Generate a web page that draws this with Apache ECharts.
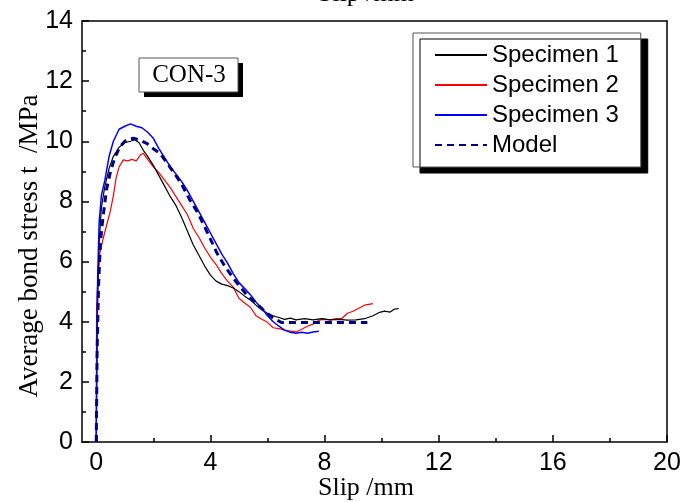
<!DOCTYPE html>
<html><head><meta charset="utf-8">
<script src="https://cdn.jsdelivr.net/npm/echarts@6/dist/echarts.min.js"></script>
<style>html,body{margin:0;padding:0;background:#fff}#c{width:680px;height:502px}</style>
</head><body><div id="c"></div>
<script>
// ---- data ----
const xTicks = [0, 4, 8, 12, 16, 20];
const xMinorTicks = [2, 6, 10, 14, 18];

const spec1X = [0, 0.02, 0.05, 0.1, 0.18, 0.3, 0.45, 0.6, 0.8, 1.0, 1.2, 1.35, 1.5, 1.65, 1.8, 2.0, 2.2, 2.4, 2.6, 2.8, 3.0, 3.2, 3.4, 3.6, 3.8, 4.0, 4.2, 4.4, 4.6, 4.8, 5.0, 5.2, 5.4, 5.6, 5.8, 6.0, 6.2, 6.4, 6.6, 6.8, 7.0, 7.3, 7.6, 7.9, 8.2, 8.5, 8.8, 9.1, 9.4, 9.7, 9.9, 10.1, 10.3, 10.45, 10.6];
const spec1Y = [0, 2.5, 4.8, 6.6, 7.8, 8.5, 9.1, 9.5, 9.8, 9.95, 10.0, 10.05, 9.95, 9.7, 9.5, 9.2, 8.85, 8.5, 8.15, 7.85, 7.45, 7.0, 6.55, 6.2, 5.85, 5.55, 5.35, 5.25, 5.2, 5.12, 5.0, 4.85, 4.72, 4.55, 4.4, 4.28, 4.2, 4.14, 4.08, 4.12, 4.06, 4.1, 4.06, 4.1, 4.06, 4.08, 4.05, 4.06, 4.1, 4.2, 4.3, 4.35, 4.32, 4.42, 4.44];

const spec2X = [0, 0.01, 0.05, 0.13, 0.25, 0.36, 0.5, 0.6, 0.7, 0.8, 0.95, 1.1, 1.25, 1.4, 1.55, 1.65, 1.8, 2.0, 2.2, 2.4, 2.6, 2.8, 3.0, 3.2, 3.4, 3.6, 3.8, 4.0, 4.2, 4.4, 4.6, 4.8, 5.0, 5.2, 5.4, 5.6, 5.8, 6.0, 6.2, 6.4, 6.6, 6.8, 7.0, 7.2, 7.4, 7.6, 7.8, 8.0, 8.2, 8.4, 8.6, 8.8, 9.0, 9.2, 9.4, 9.7];
const spec2Y = [0, 4.5, 5.3, 6.3, 6.8, 7.2, 7.7, 8.2, 8.8, 9.15, 9.38, 9.35, 9.4, 9.35, 9.55, 9.6, 9.4, 9.15, 8.95, 8.7, 8.45, 8.15, 7.85, 7.55, 7.1, 6.8, 6.45, 6.15, 5.9, 5.6, 5.35, 5.15, 4.78, 4.62, 4.48, 4.2, 4.08, 3.98, 3.8, 3.77, 3.72, 3.69, 3.66, 3.75, 3.85, 3.92, 4.05, 4.08, 4.06, 4.1, 4.1, 4.28, 4.35, 4.45, 4.55, 4.6];

const spec3X = [0, 0.02, 0.05, 0.1, 0.18, 0.3, 0.45, 0.6, 0.8, 1.0, 1.2, 1.4, 1.6, 1.8, 2.0, 2.2, 2.4, 2.6, 2.8, 3.0, 3.2, 3.4, 3.6, 3.8, 4.0, 4.2, 4.4, 4.6, 4.8, 5.0, 5.2, 5.4, 5.6, 5.8, 6.0, 6.2, 6.4, 6.6, 6.8, 7.0, 7.2, 7.4, 7.6, 7.8];
const spec3Y = [0, 3.0, 5.5, 7.3, 8.2, 8.7, 9.5, 10.0, 10.4, 10.5, 10.58, 10.5, 10.45, 10.3, 10.1, 9.75, 9.45, 9.15, 8.9, 8.65, 8.35, 8.0, 7.65, 7.3, 6.95, 6.6, 6.25, 5.95, 5.6, 5.3, 5.1, 4.9, 4.65, 4.45, 4.2, 4.0, 3.85, 3.72, 3.65, 3.62, 3.65, 3.62, 3.66, 3.68];

const modelX = [0, 0.03, 0.08, 0.15, 0.24, 0.36, 0.5, 0.65, 0.83, 1.0, 1.15, 1.3, 1.5, 1.77, 2.0, 2.23, 2.5, 2.82, 3.0, 3.28, 3.57, 3.8, 4.0, 4.22, 4.5, 4.92, 5.27, 5.62, 5.9, 6.2, 6.5, 7.0, 7.5, 8.0, 8.5, 9.0, 9.5];
const modelY = [0, 3.0, 5.2, 6.7, 7.5, 8.4, 9.0, 9.45, 9.82, 10.0, 10.08, 10.1, 10.05, 9.93, 9.75, 9.6, 9.25, 8.82, 8.55, 8.05, 7.6, 7.15, 6.75, 6.3, 5.85, 5.3, 4.9, 4.6, 4.35, 4.12, 3.97, 3.97, 3.97, 3.97, 3.97, 3.97, 3.97];

const seriesNames = ['Specimen 1', 'Specimen 2', 'Specimen 3', 'Model'];
const xTitle = 'Slip /mm';
const yTitle = 'Average bond stress t  /MPa';
const panelLabel = 'CON-3';
// ---------------

const zip = (xs, ys) => xs.map((x, i) => [x, ys[i]]);
const sans = 'Liberation Sans';
const serif = 'Liberation Serif';

const chart = echarts.init(document.getElementById('c'), null, {renderer: 'canvas'});
chart.setOption({
  animation: false,
  backgroundColor: '#fff',
  grid: {left: 82, right: 13, top: 21, bottom: 60, containLabel: false, outerBoundsMode: 'none'},
  xAxis: [
    {type: 'value', position: 'bottom', min: -0.5, max: 20,
     axisLine: {show: true, onZero: false, lineStyle: {color: '#000', width: 1.5}},
     axisTick: {show: true, inside: true, length: 7, customValues: xTicks, lineStyle: {color: '#000', width: 1.5}},
     axisLabel: {customValues: xTicks, fontFamily: sans, fontSize: 25, color: '#000', margin: 9},
     splitLine: {show: false}},
    {type: 'value', position: 'bottom', min: -0.5, max: 20,
     axisLine: {show: false, onZero: false},
     axisTick: {show: true, inside: true, length: 4, customValues: xMinorTicks, lineStyle: {color: '#000', width: 1.5}},
     axisLabel: {show: false}, splitLine: {show: false}},
    {type: 'value', position: 'top', min: -0.5, max: 20,
     axisLine: {show: true, onZero: false, lineStyle: {color: '#000', width: 1.5}},
     axisTick: {show: false}, axisLabel: {show: false}, splitLine: {show: false}}
  ],
  yAxis: [
    {type: 'value', position: 'left', min: 0, max: 14, interval: 2,
     axisLine: {show: true, onZero: false, lineStyle: {color: '#000', width: 1.5}},
     axisTick: {show: true, inside: true, length: 7, lineStyle: {color: '#000', width: 1.5}},
     minorTick: {show: true, splitNumber: 2, length: 4, lineStyle: {color: '#000', width: 1.5}},
     axisLabel: {fontFamily: sans, fontSize: 25, color: '#000', margin: 9},
     splitLine: {show: false}},
    {type: 'value', position: 'right', min: 0, max: 14,
     axisLine: {show: true, onZero: false, lineStyle: {color: '#000', width: 1.5}},
     axisTick: {show: false}, axisLabel: {show: false}, splitLine: {show: false}}
  ],
  legend: {
    orient: 'vertical', left: 413, top: 33,
    padding: [10, 22, 10, 21],
    itemWidth: 52, itemHeight: 14, itemGap: 6,
    backgroundColor: '#fff', borderColor: '#555', borderWidth: 1,
    shadowColor: '#000', shadowBlur: 0, shadowOffsetX: 7, shadowOffsetY: 6,
    itemStyle: {opacity: 0},
    textStyle: {fontFamily: sans, fontSize: 24, lineHeight: 23, color: '#000'},
    data: seriesNames
  },
  series: [
    {name: seriesNames[0], type: 'line', data: zip(spec1X, spec1Y), symbol: 'none', showSymbol: false,
     lineStyle: {color: '#000', width: 1.2}, itemStyle: {color: '#000'}, z: 3},
    {name: seriesNames[1], type: 'line', data: zip(spec2X, spec2Y), symbol: 'none', showSymbol: false,
     lineStyle: {color: '#ff0000', width: 1.2}, itemStyle: {color: '#ff0000'}, z: 2},
    {name: seriesNames[2], type: 'line', data: zip(spec3X, spec3Y), symbol: 'none', showSymbol: false,
     lineStyle: {color: '#0000ff', width: 1.5}, itemStyle: {color: '#0000ff'}, z: 4},
    {name: seriesNames[3], type: 'line', data: zip(modelX, modelY), symbol: 'none', showSymbol: false,
     lineStyle: {color: '#000080', width: 3, type: [7, 5]}, itemStyle: {color: '#000080'}, z: 5}
  ],
  graphic: [
    {type: 'rect', shape: {x: 144, y: 63, width: 99, height: 34}, style: {fill: '#000'}, z: 10},
    {type: 'rect', shape: {x: 139, y: 58, width: 99, height: 34}, style: {fill: '#fff', stroke: '#555', lineWidth: 1}, z: 11},
    {type: 'text', x: 189, y: 75, z: 12,
     style: {text: panelLabel, fontFamily: serif, fontSize: 25, fill: '#000', align: 'center', verticalAlign: 'middle'}},
    {type: 'text', x: 366, y: 488, z: 12,
     style: {text: xTitle, fontFamily: serif, fontSize: 26, fill: '#000', align: 'center', verticalAlign: 'middle'}},
    {type: 'text', x: 366, y: -6, z: 12,
     style: {text: xTitle, fontFamily: serif, fontSize: 26, fill: '#000', align: 'center', verticalAlign: 'middle'}},
    {type: 'text', x: 30, y: 246, rotation: Math.PI / 2, z: 12,
     style: {text: yTitle, fontFamily: serif, fontSize: 27, fill: '#000', align: 'center', verticalAlign: 'middle'}}
  ]
});
</script>
</body></html>
